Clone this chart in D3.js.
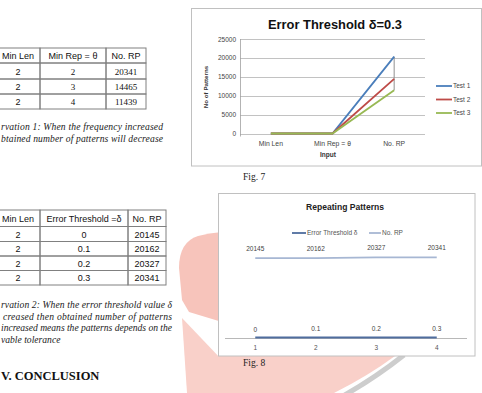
<!DOCTYPE html>
<html><head><meta charset="utf-8">
<script src="https://cdn.jsdelivr.net/npm/d3@7"></script>
<style>body{margin:0;background:#fff;overflow:hidden;} svg{display:block;}</style>
</head><body>
<script>
// ---------- data ----------
const fig7Categories = ["Min Len", "Min Rep = θ", "No. RP"];
const fig7Test1 = [2, 2, 20341];
const fig7Test2 = [2, 3, 14465];
const fig7Test3 = [2, 4, 11439];
const fig7SeriesNames = ["Test 1", "Test 2", "Test 3"];
const fig7YTicks = [0, 5000, 10000, 15000, 20000, 25000];

const fig8Categories = ["1", "2", "3", "4"];
const fig8ErrorThreshold = [0, 0.1, 0.2, 0.3];
const fig8NoRP = [20145, 20162, 20327, 20341];
const fig8SeriesNames = ["Error Threshold δ", "No. RP"];

const table1Header = ["Min Len", "Min Rep = θ", "No. RP"];
const table1MinLen = [2, 2, 2];
const table1MinRep = [2, 3, 4];
const table1NoRP = [20341, 14465, 11439];

const table2Header = ["Min Len", "Error Threshold =δ", "No. RP"];
const table2MinLen = [2, 2, 2, 2];
const table2Delta = ["0", "0.1", "0.2", "0.3"];
const table2NoRP = [20145, 20162, 20327, 20341];

const obs1Lines = ["rvation 1: When the frequency increased", "btained number of patterns will decrease"];
const obs2Lines = ["rvation 2: When the error threshold value δ", "creased then obtained number of patterns",
                   "increased means the patterns depends on the", "vable tolerance"];

// ---------- page ----------
const W = 482, H = 393;
const SANS = "'Liberation Sans', Arial, sans-serif";
const SERIF = "'Liberation Serif', 'Times New Roman', serif";
const svg = d3.select("body").append("svg").attr("width", W).attr("height", H);

// watermark (behind everything)
const wm = svg.append("g");
// upper lobe
wm.append("path").attr("fill", "#f7c4bb")
  .attr("d", "M179,268 Q179,242 198,236 Q209,233 222,232 L222,322 L189,312 L182,300 Z");
// lower band below the wedge
wm.append("path").attr("fill", "#f9d0c9")
  .attr("d", "M182,318 L222,360 L222,393 L187,393 Z");
// band under the Fig. 8 frame
wm.append("path").attr("fill", "#f9d0c9")
  .attr("d", "M215,356 L395,356 Q368,376 334,393 L215,393 Z");
// grey swoosh
wm.append("path").attr("fill", "none").attr("stroke", "#cdcdcd").attr("stroke-width", 5)
  .attr("d", "M404,355 Q375,378 343,396");

// ---------- tables ----------
function drawTable(colEdges, rowEdges, header, columns, fonts) {
  const g = svg.append("g");
  const nRows = rowEdges.length - 1;
  for (let r = 0; r < nRows; r++) {
    for (let c = 0; c < colEdges.length - 1; c++) {
      const x0 = colEdges[c], x1 = colEdges[c + 1], y0 = rowEdges[r], y1 = rowEdges[r + 1];
      g.append("rect").attr("x", x0).attr("y", y0).attr("width", x1 - x0).attr("height", y1 - y0)
        .attr("fill", "none").attr("stroke", "#808080").attr("stroke-width", 1);
      const txt = r === 0 ? header[c] : String(columns[c][r - 1]);
      const f = r === 0 ? fonts.header : fonts.cols[c];
      g.append("text").attr("x", (Math.max(x0, -4) + x1) / 2).attr("y", (y0 + y1) / 2 + 3.5)
        .attr("text-anchor", "middle").attr("font-family", f.family).attr("font-size", f.size)
        .attr("fill", "#111").text(txt);
    }
  }
}
const sansCell = {family: SANS, size: 9};
const serifCell = {family: SERIF, size: 9};
drawTable([-4, 40, 106, 146], [48, 63, 79, 94, 109], table1Header,
  [table1MinLen, table1MinRep, table1NoRP], {header: sansCell, cols: [sansCell, serifCell, serifCell]});
drawTable([-4, 40, 128, 166], [210, 226.5, 241.5, 256, 270.5, 285], table2Header,
  [table2MinLen, table2Delta, table2NoRP], {header: sansCell, cols: [sansCell, sansCell, sansCell]});

// observation paragraphs
function para(lines, x0, x1, y0, lh, justifyAllButLast) {
  lines.forEach((t, i) => {
    const el = svg.append("text").attr("x", x0[i]).attr("y", y0 + i * lh)
      .attr("font-family", SERIF).attr("font-style", "italic").attr("font-size", 9.6)
      .attr("fill", "#222").text(t);
    if (!justifyAllButLast || i < lines.length - 1) el.attr("textLength", x1 - x0[i]).attr("lengthAdjust", "spacing");
  });
}
para(obs1Lines, [1, 1], 163, 129.5, 12.5, false);
para(obs2Lines, [1, 3, 1, 1], 172, 308, 11.7, true);

svg.append("text").attr("x", 1).attr("y", 380).attr("font-family", SERIF).attr("font-weight", "bold")
  .attr("font-size", 12.5).attr("fill", "#111").text("V. CONCLUSION");

// ---------- Fig. 7 ----------
svg.append("rect").attr("x", 191.5).attr("y", 8.5).attr("width", 290).attr("height", 157.5)
  .attr("fill", "#fff").attr("stroke", "#c0c0c0");
svg.append("text").attr("x", 335).attr("y", 29).attr("text-anchor", "middle")
  .attr("font-family", SANS).attr("font-weight", "bold").attr("font-size", 13)
  .attr("textLength", 134).attr("lengthAdjust", "spacingAndGlyphs").attr("fill", "#111")
  .text("Error Threshold  δ=0.3");

const x7 = d3.scaleBand().domain(fig7Categories).range([240, 425]);
const y7 = d3.scaleLinear().domain([0, 25000]).range([133.5, 39]);
const g7 = svg.append("g");
g7.selectAll("line.grid").data(fig7YTicks).join("line").attr("class", "grid")
  .attr("x1", 240).attr("x2", 425).attr("y1", d => Math.round(y7(d)) + 0.5).attr("y2", d => Math.round(y7(d)) + 0.5)
  .attr("stroke", "#b3b3b3").attr("stroke-width", 0.8);
g7.append("line").attr("x1", 240.5).attr("x2", 240.5).attr("y1", y7(25000)).attr("y2", y7(0) + 3)
  .attr("stroke", "#a0a0a0").attr("stroke-width", 0.8);
const yAxis7 = d3.axisLeft(y7).tickValues(fig7YTicks).tickSize(0).tickPadding(0).tickFormat(d3.format("d"));
const ya = g7.append("g").attr("transform", "translate(236,0)").call(yAxis7);
ya.select(".domain").remove();
ya.selectAll("text").attr("font-family", SANS).attr("font-size", 6.5).attr("fill", "#444");
const xAxis7 = d3.axisBottom(x7).tickSize(0).tickPadding(0);
const xa = g7.append("g").attr("transform", "translate(0,141)").call(xAxis7);
xa.select(".domain").remove();
xa.selectAll("text").attr("font-family", SANS).attr("font-size", 6.8).attr("fill", "#444");
g7.append("text").attr("x", 328).attr("y", 156.5).attr("text-anchor", "middle").attr("font-family", SANS)
  .attr("font-weight", "bold").attr("font-size", 6.5).attr("fill", "#333").text("Input");
g7.append("text").attr("transform", "translate(208,87) rotate(-90)").attr("text-anchor", "middle")
  .attr("font-family", SANS).attr("font-weight", "bold").attr("font-size", 6.2).attr("fill", "#333").text("No of Patterns");

const series7 = [fig7Test1, fig7Test2, fig7Test3];
const colors7 = ["#4a7ebb", "#be4b48", "#98b954"];
// high-low lines
g7.selectAll("line.hl").data(fig7Categories).join("line").attr("class", "hl")
  .attr("x1", (d) => x7(d) + x7.bandwidth() / 2).attr("x2", (d) => x7(d) + x7.bandwidth() / 2)
  .attr("y1", (d, i) => y7(d3.max(series7, s => s[i]))).attr("y2", (d, i) => y7(d3.min(series7, s => s[i])))
  .attr("stroke", "#909090").attr("stroke-width", 1);
const line7 = d3.line().x((d, i) => x7(fig7Categories[i]) + x7.bandwidth() / 2).y(d => y7(d));
series7.forEach((s, k) => {
  g7.append("path").datum(s).attr("d", line7).attr("fill", "none").attr("stroke", colors7[k]).attr("stroke-width", 1.8);
});
// legend
fig7SeriesNames.forEach((n, k) => {
  const ly = 86 + k * 13.5;
  g7.append("line").attr("x1", 436).attr("x2", 452).attr("y1", ly).attr("y2", ly).attr("stroke", colors7[k]).attr("stroke-width", 1.8);
  g7.append("text").attr("x", 453).attr("y", ly + 2.3).attr("font-family", SANS).attr("font-size", 6.5).attr("fill", "#444").text(n);
});
svg.append("text").attr("x", 243).attr("y", 180).attr("font-family", SERIF).attr("font-size", 9.5).attr("fill", "#222").text("Fig. 7");

// ---------- Fig. 8 ----------
svg.append("rect").attr("x", 218.5).attr("y", 193.5).attr("width", 256.5).attr("height", 162.5)
  .attr("fill", "#fff").attr("stroke", "#c0c0c0");
svg.append("text").attr("x", 345).attr("y", 209.5).attr("text-anchor", "middle")
  .attr("font-family", SANS).attr("font-weight", "bold").attr("font-size", 9.5)
  .attr("textLength", 78).attr("lengthAdjust", "spacingAndGlyphs").attr("fill", "#222").text("Repeating Patterns");

const x8 = d3.scaleBand().domain(fig8Categories).range([225, 467]);
const y8 = d3.scaleLinear().domain([0, 25000]).range([337.5, 239]);
const g8 = svg.append("g");
const cx8 = d => x8(d) + x8.bandwidth() / 2;
g8.append("line").attr("x1", 225).attr("x2", 467).attr("y1", 338.5).attr("y2", 338.5).attr("stroke", "#b8b8b8");
const xAxis8 = d3.axisBottom(x8).tickSize(0).tickPadding(0);
const xa8 = g8.append("g").attr("transform", "translate(0,345)").call(xAxis8);
xa8.select(".domain").remove();
xa8.selectAll("text").attr("font-family", SANS).attr("font-size", 6.5).attr("fill", "#555");

const colors8 = ["#4f6d9e", "#a7b7d3"];
const series8 = [fig8ErrorThreshold, fig8NoRP];
const line8 = d3.line().x((d, i) => cx8(fig8Categories[i])).y(d => y8(d));
series8.forEach((s, k) => {
  g8.append("path").datum(s).attr("d", line8).attr("fill", "none").attr("stroke", colors8[k]).attr("stroke-width", k === 0 ? 2.2 : 1.8);
  g8.selectAll("text.lab" + k).data(s).join("text").attr("class", "lab" + k)
    .attr("x", (d, i) => cx8(fig8Categories[i])).attr("y", d => y8(d) - (k === 0 ? 6 : 7))
    .attr("text-anchor", "middle").attr("font-family", SANS).attr("font-size", 6.5).attr("fill", "#444")
    .text(d => String(d));
});
// legend
const leg8 = [{x1: 292, x2: 306, tx: 307}, {x1: 369, x2: 381, tx: 382}];
fig8SeriesNames.forEach((n, k) => {
  g8.append("line").attr("x1", leg8[k].x1).attr("x2", leg8[k].x2).attr("y1", 233).attr("y2", 233)
    .attr("stroke", colors8[k]).attr("stroke-width", 1.8);
  g8.append("text").attr("x", leg8[k].tx).attr("y", 235.3).attr("font-family", SANS).attr("font-size", 6.5)
    .attr("fill", "#555").text(n);
});
svg.append("text").attr("x", 243).attr("y", 366).attr("font-family", SERIF).attr("font-size", 9.5).attr("fill", "#222").text("Fig. 8");
</script>
</body></html>
